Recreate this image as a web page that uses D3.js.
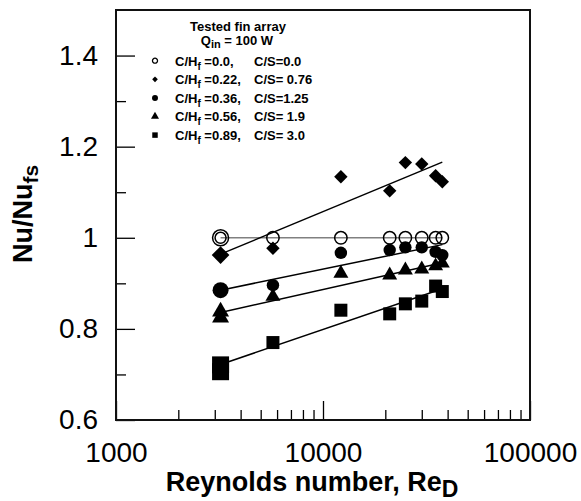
<!DOCTYPE html>
<html>
<head>
<meta charset="utf-8">
<script src="https://cdn.jsdelivr.net/npm/d3@7"></script>
<style>
    body { margin: 0; background: #fff; }
    svg { display: block; font-family: "Liberation Sans", Arial, sans-serif; }
</style>
</head>
<body>
<div class="canvas"></div>
<script>
// Reynolds numbers of the tested points
const reynolds = [3200, 5730, 12200, 21000, 25000, 30000, 35000, 37700];
const reRepeat = [3200];

// Nu/Nufs per fin array
const nuOpen = [1.0, 1.0, 1.0, 1.0, 1.0, 1.0, 1.0, 1.0];
const nuDiamond = [0.962, 0.977, 1.134, 1.103, 1.165, 1.162, 1.136, 1.123];
const nuCircle = [0.885, 0.896, 0.967, 0.973, 0.979, 0.979, 0.969, 0.962];
const nuTriangle = [0.838, 0.871, 0.922, 0.918, 0.929, 0.931, 0.938, 0.944];
const nuSquare = [0.721, 0.770, 0.841, 0.833, 0.855, 0.861, 0.894, 0.882];
// repeated runs at the lowest Re
const nuTriangleRepeat = [0.825];
const nuSquareRepeat = [0.706];

// fitted lines, value at first and last Re
const fitRe = [3200, 37700];
const fitStart = [1.0, 0.964, 0.885, 0.836, 0.722];
const fitEnd = [1.0, 1.166, 0.985, 0.945, 0.888];

// legend
const legendHf = ['=0.0,', '=0.22,', '=0.36,', '=0.56,', '=0.89,'];
const legendCs = ['C/S=0.0', 'C/S= 0.76', 'C/S=1.25', 'C/S= 1.9', 'C/S= 3.0'];

// axes
const xMajorTicks = [1000, 10000, 100000];
const xTickLabels = ['1000', '10000', '100000'];
const yMajorTicks = [0.6, 0.8, 1.0, 1.2, 1.4];
const yTickLabels = ['0.6', '0.8', '1', '1.2', '1.4'];
const yMinorTicks = [0.7, 0.9, 1.1, 1.3];

const app = {
    svg: null,
    x: null,
    y: null,

    init: function() {
        app.svg = d3.select('.canvas')
            .append('svg')
            .attr('width', 581)
            .attr('height', 501);

        // Scales
        app.x = d3.scaleLog().domain([1000, 100000]).range([116, 530]);
        app.y = d3.scaleLinear().domain([0.6, 1.5]).range([420, 10]);

        app.drawAxes();
        app.drawLines();
        app.drawPoints();
        app.drawLegend();
        app.drawTitles();
    },

    symbolPath: function(kind, big) {
        const sizes = {
            open: big ? 201 : 121,
            circle: big ? 201 : 121,
            diamond: big ? 156 : 90,
            triangle: big ? 125 : 97,
            square: big ? 289 : 169
        };
        const types = {
            open: d3.symbolCircle,
            circle: d3.symbolCircle,
            diamond: d3.symbolSquare,
            triangle: d3.symbolTriangle,
            square: d3.symbolSquare
        };
        return d3.symbol().type(types[kind]).size(sizes[kind])();
    },

    drawAxes: function() {
        const minorX = [];
        [1000, 10000].forEach(dec => {
            for (let k = 2; k <= 9; k++) minorX.push(dec * k);
        });

        // minor ticks
        app.svg.append('g')
            .attr('transform', 'translate(0,420)')
            .call(d3.axisBottom(app.x).tickValues(minorX).tickSize(-10).tickSizeOuter(0).tickFormat(''))
            .call(g => g.select('.domain').remove())
            .selectAll('line').attr('stroke', '#000').attr('stroke-width', 1.3);

        app.svg.append('g')
            .attr('transform', 'translate(116,0)')
            .call(d3.axisLeft(app.y).tickValues(yMinorTicks).tickSize(-10).tickSizeOuter(0).tickFormat(''))
            .call(g => g.select('.domain').remove())
            .selectAll('line').attr('stroke', '#000').attr('stroke-width', 1.3);

        // major ticks
        const xAxis = app.svg.append('g')
            .attr('transform', 'translate(0,420)')
            .call(d3.axisBottom(app.x).tickValues(xMajorTicks).tickSize(-19).tickSizeOuter(0)
                .tickPadding(22).tickFormat((d, i) => xTickLabels[i]));
        xAxis.select('.domain').remove();
        xAxis.selectAll('line').attr('stroke', '#000').attr('stroke-width', 1.3);
        xAxis.selectAll('text').attr('font-size', 28).attr('fill', '#000')
            .attr('font-family', '"Liberation Sans", Arial, sans-serif');

        const yAxis = app.svg.append('g')
            .attr('transform', 'translate(116,0)')
            .call(d3.axisLeft(app.y).tickValues(yMajorTicks).tickSize(-19).tickSizeOuter(0)
                .tickPadding(18).tickFormat((d, i) => yTickLabels[i]));
        yAxis.select('.domain').remove();
        yAxis.selectAll('line').attr('stroke', '#000').attr('stroke-width', 1.3);
        yAxis.selectAll('text').attr('font-size', 28).attr('fill', '#000')
            .attr('font-family', '"Liberation Sans", Arial, sans-serif');

        // frame
        const [x0, x1] = app.x.range();
        const [y0, y1] = app.y.range();
        app.svg.append('rect')
            .attr('x', x0).attr('y', y1)
            .attr('width', x1 - x0).attr('height', y0 - y1)
            .attr('fill', 'none')
            .attr('stroke', '#111')
            .attr('stroke-width', 2);
    },

    drawLines: function() {
        const line = d3.line().x(d => app.x(d[0])).y(d => app.y(d[1]));
        fitStart.forEach((s, i) => {
            app.svg.append('path')
                .attr('d', line([[fitRe[0], s], [fitRe[1], fitEnd[i]]]))
                .attr('fill', 'none')
                .attr('stroke', i === 0 ? '#808080' : '#000')
                .attr('stroke-width', 1.5);
        });
    },

    drawPoints: function() {
        const series = [
            { kind: 'open', re: reynolds, nu: nuOpen },
            { kind: 'diamond', re: reynolds, nu: nuDiamond },
            { kind: 'circle', re: reynolds, nu: nuCircle },
            { kind: 'triangle', re: reRepeat.concat(reynolds), nu: nuTriangleRepeat.concat(nuTriangle) },
            { kind: 'square', re: reRepeat.concat(reynolds), nu: nuSquareRepeat.concat(nuSquare) }
        ];
        const minRe = d3.min(reynolds);

        series.forEach(s => {
            const pts = s.re.map((r, i) => ({ re: r, nu: s.nu[i] }));
            const g = app.svg.append('g');
            g.selectAll('path')
                .data(pts)
                .enter()
                .append('path')
                    .attr('d', d => app.symbolPath(s.kind, d.re === minRe))
                    .attr('transform', d => `translate(${app.x(d.re)},${app.y(d.nu)})` +
                        (s.kind === 'diamond' ? ' rotate(45)' : ''))
                    .attr('fill', s.kind === 'open' ? 'none' : '#000')
                    .attr('stroke', s.kind === 'open' ? '#000' : 'none')
                    .attr('stroke-width', 1.5);

            // the repeated open-circle run shows as a second ring
            if (s.kind === 'open') {
                g.selectAll('circle')
                    .data(pts.filter(d => d.re === minRe))
                    .enter()
                    .append('circle')
                        .attr('cx', d => app.x(d.re))
                        .attr('cy', d => app.y(d.nu))
                        .attr('r', 5.5)
                        .attr('fill', 'none')
                        .attr('stroke', '#000')
                        .attr('stroke-width', 1.5);
            }
        });
    },

    drawLegend: function() {
        const kinds = ['open', 'diamond', 'circle', 'triangle', 'square'];
        const legend = app.svg.append('g').attr('font-weight', 'bold').attr('fill', '#000');

        legend.append('text')
            .attr('x', 238).attr('y', 30.5)
            .attr('text-anchor', 'middle')
            .attr('font-size', 13)
            .text('Tested fin array');

        const q = legend.append('text')
            .attr('x', 237).attr('y', 44.5)
            .attr('text-anchor', 'middle')
            .attr('font-size', 13);
        q.append('tspan').text('Q');
        q.append('tspan').attr('font-size', 11).attr('dy', 3).text('in');
        q.append('tspan').attr('dy', -3).text(' = 100 W');

        const rows = legend.selectAll('.row')
            .data(kinds)
            .enter()
            .append('g')
                .attr('class', 'row')
                .attr('transform', (d, i) => `translate(0,${60.7 + i * 18.6})`);

        rows.append('path')
            .attr('d', d => d3.symbol()
                .type(d === 'triangle' ? d3.symbolTriangle : (d === 'open' || d === 'circle') ? d3.symbolCircle : d3.symbolSquare)
                .size(d === 'open' ? 20 : d === 'diamond' ? 16 : d === 'square' ? 30 : 28)())
            .attr('transform', d => 'translate(155,0)' + (d === 'diamond' ? ' rotate(45)' : ''))
            .attr('fill', d => d === 'open' ? 'none' : '#000')
            .attr('stroke', d => d === 'open' ? '#000' : 'none')
            .attr('stroke-width', 1.3);

        const t = rows.append('text')
            .attr('x', 175).attr('y', 4.8)
            .attr('font-size', 13);
        t.append('tspan').text('C/H');
        t.append('tspan').attr('font-size', 10).attr('dy', 4).text('f');
        t.append('tspan').attr('dy', -4).text((d, i) => ' ' + legendHf[i]);

        rows.append('text')
            .attr('x', 254).attr('y', 4.8)
            .attr('font-size', 13)
            .text((d, i) => legendCs[i]);
    },

    drawTitles: function() {
        const xt = app.svg.append('text')
            .attr('x', 312).attr('y', 491)
            .attr('text-anchor', 'middle')
            .attr('font-size', 27)
            .attr('font-weight', 'bold');
        xt.append('tspan').text('Reynolds number, Re');
        xt.append('tspan').attr('font-size', 23).attr('dy', 6).text('D');

        const yt = app.svg.append('text')
            .attr('transform', 'translate(32,214) rotate(-90)')
            .attr('text-anchor', 'middle')
            .attr('font-size', 27)
            .attr('font-weight', 'bold');
        yt.append('tspan').text('Nu/Nu');
        yt.append('tspan').attr('font-size', 21).attr('dy', 6).text('fs');
    }
};

document.addEventListener('DOMContentLoaded', app.init);
</script>
</body>
</html>
